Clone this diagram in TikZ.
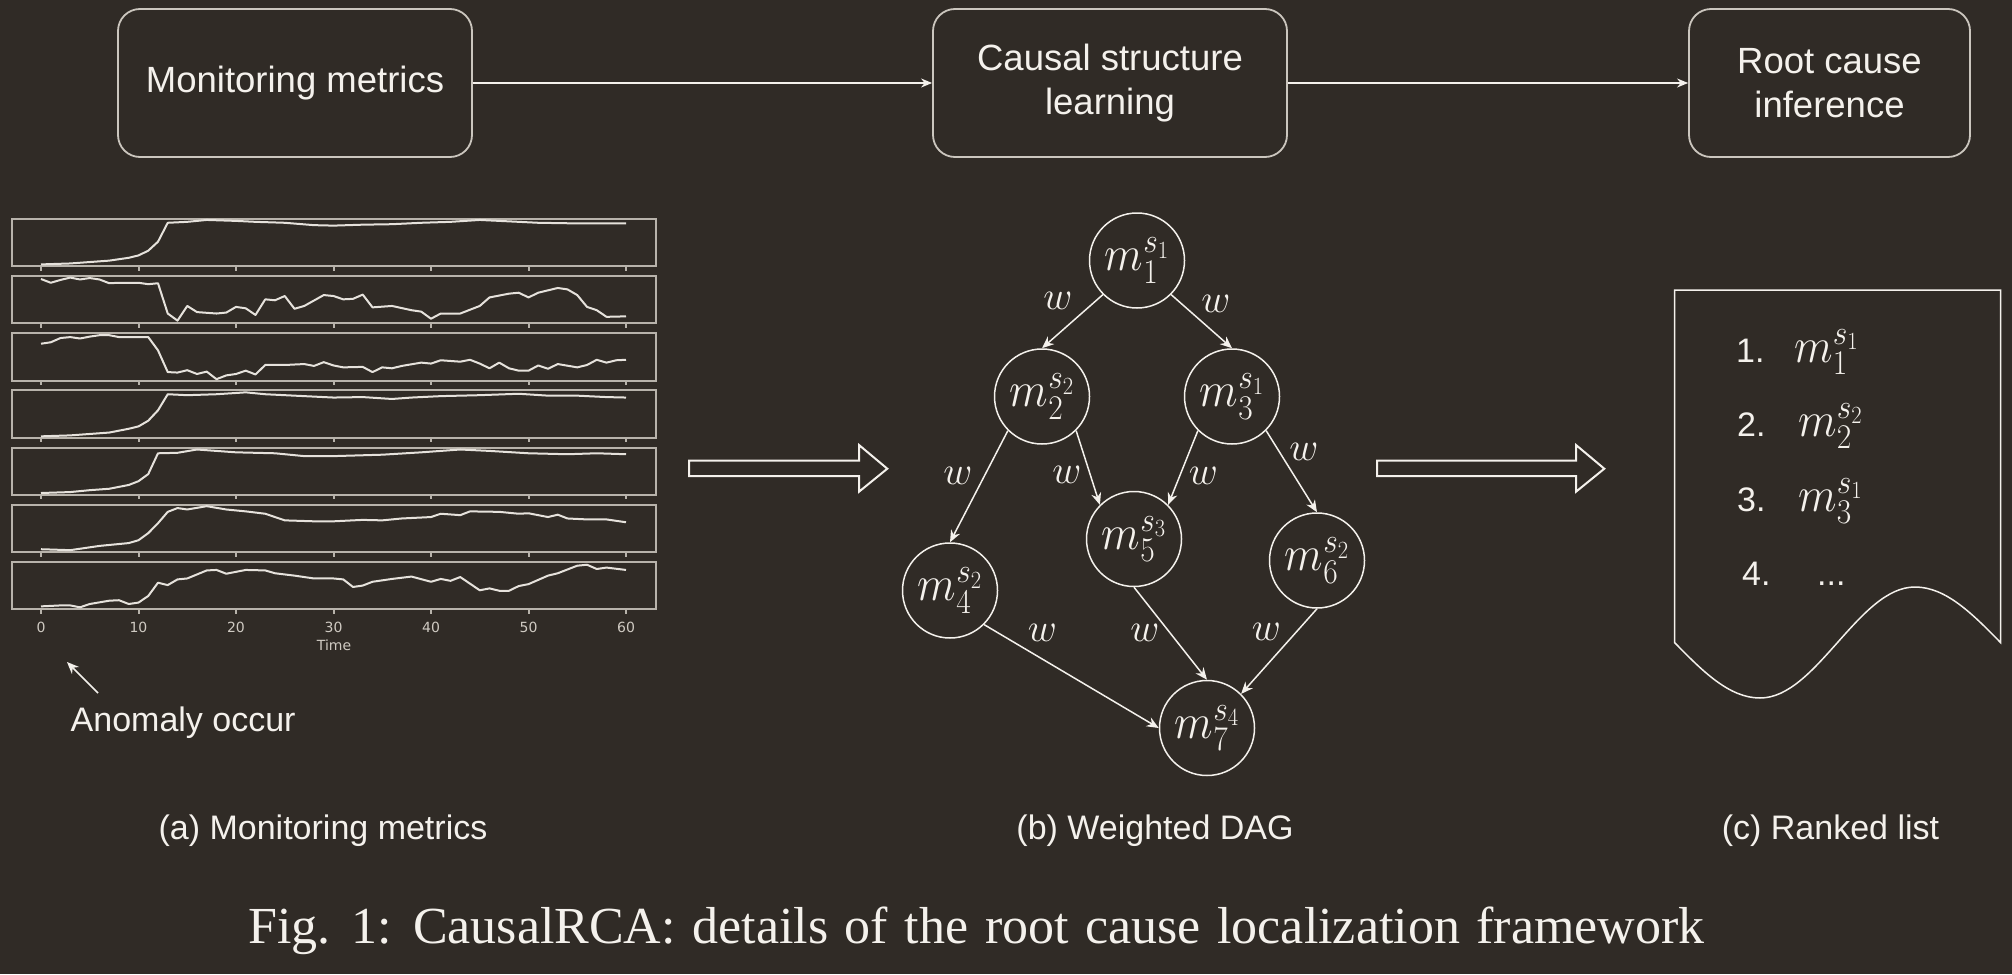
\RequirePackage{fix-cm}
\documentclass[tikz,border=0pt]{standalone}
\usepackage{graphicx}
\usepackage{fontspec}
\setmainfont{Liberation Sans}
\newfontfamily\capfont{Liberation Serif}
\newfontfamily\tickfont{DejaVu Sans}
\usetikzlibrary{arrows.meta}
\definecolor{bg}{HTML}{302B26}
\definecolor{fg}{HTML}{F4F1EC}
\definecolor{boxline}{HTML}{CBC6BE}
\definecolor{plotline}{HTML}{B8B3AB}
\definecolor{seriesc}{HTML}{E6E2DC}
\definecolor{tickc}{HTML}{CFCAC2}
\newcommand\mymath[1]{\scalebox{1}[1.1]{$#1$}}
\newcommand\mystrip[2]{%
  \pgfmathsetmacro\stTop{219+57.15*#1}%
  \pgfmathsetmacro\stBot{\stTop+47.3}%
  \draw[stripframe] (11.5,\stTop) rectangle (656,\stBot);
  \foreach \k in {0,...,6}{\draw[stripframe] ({41+97.5*\k},\stBot) -- ++(0,4.5);}
  \begin{scope}[shift={(41,\stBot)},x=9.75pt,y=47.3pt]
    \draw[series] plot coordinates {#2};
  \end{scope}
}
\begin{document}
\begin{tikzpicture}[x=1pt,y=-1pt,
  flowbox/.style={draw=boxline, line width=1.8pt, rounded corners=22pt, align=center, text=fg, inner sep=0pt, font=\fontsize{36.5}{44}\selectfont},
  dagnode/.style={circle, draw=fg, line width=1.5pt, minimum size=95pt, inner sep=0pt, text=fg, font=\fontsize{45}{52}\selectfont},
  dagedge/.style={draw=fg, line width=1.5pt, -{Stealth[length=12pt,width=10pt]}},
  flowarrow/.style={draw=fg, line width=1.5pt, -{Stealth[length=11pt,width=9pt]}},
  wlabel/.style={text=fg, font=\fontsize{40}{47}\selectfont, inner sep=0pt},
  captext/.style={text=fg, font=\fontsize{34}{40}\selectfont, inner sep=0pt},
  listmath/.style={text=fg, font=\fontsize{45}{52}\selectfont, inner sep=0pt},
  hollow/.style={draw=fg, line width=2pt, line join=miter},
  stripframe/.style={draw=plotline, line width=2pt},
  series/.style={draw=seriesc, line width=2pt, line join=round},
  ticktext/.style={text=tickc, font=\tickfont\fontsize{14}{16}\selectfont, inner sep=0pt},
]
\fill[bg] (0,0) rectangle (2012,974);
\useasboundingbox (0,0) rectangle (2012,974);

% top flow
\node[flowbox, minimum width=354pt, minimum height=148pt] (mon) at (295,83) {Monitoring metrics};
\node[flowbox, minimum width=354pt, minimum height=148pt] (csl) at (1110,83) {Causal structure\\learning};
\node[flowbox, minimum width=281pt, minimum height=148pt] (rci) at (1829.5,83) {Root cause\\inference};
\draw[flowarrow] (mon.east) -- (csl.west);
\draw[flowarrow] (csl.east) -- (rci.west);

% metric strips
\mystrip{0}{(0,0.04)(3,0.06)(5,0.09)(7,0.12)(8,0.15)(9,0.18)(10,0.23)(11,0.33)(12,0.52)(12.5,0.72)(13,0.92)(15,0.94)(17,0.98)(20,0.96)(22,0.94)(25,0.92)(28,0.87)(30,0.86)(33,0.88)(36,0.89)(39,0.92)(42,0.94)(45,0.98)(48,0.95)(51,0.92)(54,0.91)(57,0.91)(60,0.91)}
\mystrip{1}{(0,0.94)(1,0.86)(2,0.92)(3,0.97)(4,0.93)(5,0.96)(6,0.93)(7,0.85)(8,0.86)(10,0.86)(11,0.83)(12,0.85)(13,0.21)(14,0.06)(15,0.37)(16,0.24)(18,0.21)(19,0.23)(20,0.35)(21,0.32)(22,0.18)(23,0.51)(24,0.49)(25,0.58)(26,0.31)(27,0.37)(29,0.60)(30,0.58)(31,0.51)(32,0.52)(33,0.61)(34,0.34)(36,0.37)(38,0.28)(39,0.25)(40,0.10)(41,0.21)(43,0.21)(45,0.37)(46,0.55)(48,0.63)(49,0.65)(50,0.55)(51,0.65)(53,0.75)(54,0.72)(55,0.60)(56,0.35)(57,0.28)(58,0.14)(60,0.15)}
\mystrip{2}{(0,0.78)(1,0.81)(2,0.90)(3,0.92)(4,0.89)(5,0.93)(6,0.96)(7,0.96)(8,0.92)(10,0.92)(11,0.92)(12,0.64)(13,0.18)(14,0.17)(15,0.22)(16,0.14)(17,0.19)(18,0.03)(19,0.11)(20,0.14)(21,0.21)(22,0.13)(23,0.33)(25,0.33)(27,0.35)(28,0.31)(29,0.39)(30,0.32)(31,0.28)(33,0.29)(34,0.18)(35,0.28)(36,0.26)(37,0.31)(39,0.38)(40,0.36)(41,0.43)(43,0.40)(44,0.44)(45,0.36)(46,0.26)(47,0.38)(48,0.26)(49,0.21)(50,0.21)(51,0.32)(52,0.25)(53,0.35)(55,0.28)(56,0.33)(57,0.44)(58,0.38)(59,0.43)(60,0.44)}
\mystrip{3}{(0,0.03)(3,0.05)(5,0.08)(7,0.11)(8,0.15)(9,0.19)(10,0.24)(11,0.36)(12,0.58)(13,0.92)(15,0.90)(18,0.92)(21,0.96)(23,0.92)(26,0.89)(30,0.85)(33,0.86)(36,0.82)(38,0.85)(41,0.88)(45,0.90)(49,0.93)(52,0.89)(55,0.89)(58,0.86)(60,0.85)}
\mystrip{4}{(0,0.04)(3,0.06)(5,0.10)(7,0.13)(8,0.17)(9,0.21)(10,0.29)(11,0.44)(12,0.88)(14,0.89)(16,0.96)(20,0.90)(24,0.88)(27,0.82)(30,0.82)(35,0.85)(39,0.90)(43,0.96)(46,0.93)(50,0.88)(54,0.86)(57,0.88)(60,0.86)}
\mystrip{5}{(0,0.06)(3,0.04)(6,0.13)(9,0.19)(10,0.25)(11,0.40)(12,0.61)(13,0.85)(14,0.93)(15,0.90)(17,0.97)(19,0.90)(21,0.86)(23,0.81)(25,0.67)(28,0.65)(30,0.65)(33,0.68)(35,0.67)(37,0.71)(40,0.74)(41,0.81)(43,0.78)(44,0.86)(47,0.85)(49,0.81)(50,0.82)(52,0.74)(53,0.79)(54,0.71)(56,0.69)(58,0.69)(60,0.63)}
\mystrip{6}{(0,0.06)(2,0.08)(3,0.08)(4,0.04)(5,0.11)(7,0.18)(8,0.19)(9,0.11)(10,0.14)(11,0.28)(12,0.56)(13,0.51)(14,0.63)(15,0.65)(17,0.82)(18,0.83)(19,0.75)(20,0.79)(21,0.83)(23,0.82)(24,0.76)(26,0.71)(28,0.65)(30,0.65)(31,0.63)(32,0.47)(33,0.50)(34,0.58)(36,0.64)(38,0.69)(40,0.58)(41,0.64)(42,0.60)(43,0.68)(45,0.40)(46,0.44)(47,0.39)(48,0.39)(49,0.49)(50,0.53)(52,0.71)(53,0.76)(55,0.92)(56,0.94)(57,0.85)(58,0.88)(60,0.83)}
\foreach \k in {0,...,6}{\pgfmathtruncatemacro\lab{10*\k}\node[ticktext] (tick\k) at ({41+97.5*\k},627.5) {\lab};}
\node[ticktext] (timelab) at (334,645) {Time};

% anomaly annotation
\node[captext, anchor=base west] (anom) at (70.5,731.5) {Anomaly occur};
\coordinate (anomtail) at (98,693);
\coordinate (anomhead) at (67,662);
\draw[dagedge] (anomtail) -- (anomhead);

% hollow arrows
\draw[hollow] (689,460.7) -- (859,460.7) -- (859,445) -- (887.3,468.7) -- (859,491.7) -- (859,476) -- (689,476) -- cycle;
\draw[hollow] (1377,460.7) -- (1576,460.7) -- (1576,445) -- (1604.3,468.7) -- (1576,491.7) -- (1576,476) -- (1377,476) -- cycle;

% DAG
\node[dagnode] (m1) at (1137,260.5) {\mymath{m_1^{s_1}}};
\node[dagnode] (m2) at (1042,396.5) {\mymath{m_2^{s_2}}};
\node[dagnode] (m3) at (1232,396.5) {\mymath{m_3^{s_1}}};
\node[dagnode] (m5) at (1134,539) {\mymath{m_5^{s_3}}};
\node[dagnode] (m6) at (1317,560.5) {\mymath{m_6^{s_2}}};
\node[dagnode] (m4) at (950,590.5) {\mymath{m_4^{s_2}}};
\node[dagnode] (m7) at (1207,728) {\mymath{m_7^{s_4}}};
\draw[dagedge] (m1.south west) -- (m2.north);
\draw[dagedge] (m1.south east) -- (m3.north);
\draw[dagedge] (m2.south west) -- (m4.north);
\draw[dagedge] (m2.south east) -- (m5.north west);
\draw[dagedge] (m3.south west) -- (m5.north east);
\draw[dagedge] (m3.south east) -- (m6.north);
\draw[dagedge] (m4.south east) -- (m7.west);
\draw[dagedge] (m5.south) -- (m7.north);
\draw[dagedge] (m6.south) -- (m7.north east);
\node[wlabel] (w12) at (1058,301) {$w$};
\node[wlabel] (w13) at (1216,303.5) {$w$};
\node[wlabel] (w24) at (958,476) {$w$};
\node[wlabel] (w25) at (1067,475) {$w$};
\node[wlabel] (w35) at (1203.5,475.5) {$w$};
\node[wlabel] (w36) at (1304,452) {$w$};
\node[wlabel] (w47) at (1042.5,633) {$w$};
\node[wlabel] (w57) at (1145,633) {$w$};
\node[wlabel] (w67) at (1266.5,631.5) {$w$};

% ranked list document
\draw[draw=fg, line width=1.5pt] (1674.5,290) -- (2000.5,290) -- (2000.5,642.5) sin (1915,587) cos (1837.5,642.5) sin (1760,698) cos (1674.5,642.5) -- cycle;
\node[captext, anchor=base west] (r1) at (1736,362) {1.};
\node[listmath, anchor=base west] (e1) at (1794,362) {\mymath{m_1^{s_1}}};
\node[captext, anchor=base west] (r2) at (1737,436) {2.};
\node[listmath, anchor=base west] (e2) at (1798,436) {\mymath{m_2^{s_2}}};
\node[captext, anchor=base west] (r3) at (1737,511) {3.};
\node[listmath, anchor=base west] (e3) at (1798,511) {\mymath{m_3^{s_1}}};
\node[captext, anchor=base west] (r4) at (1742,585) {4.};
\node[captext, anchor=base west] (e4) at (1817,585) {...};

% sub-captions
\node[captext, anchor=base] (capa) at (323,839) {(a) Monitoring metrics};
\node[captext, anchor=base] (capb) at (1155,839) {(b) Weighted DAG};
\node[captext, anchor=base] (capc) at (1830.5,839) {(c) Ranked list};

% figure caption
\node[anchor=base, text=fg, inner sep=0pt, font=\capfont\fontsize{52}{60}\selectfont] (fig) at (976.5,943) {\spaceskip=16.6pt Fig. 1: CausalRCA: details of the root cause localization framework};
\end{tikzpicture}
\end{document}
